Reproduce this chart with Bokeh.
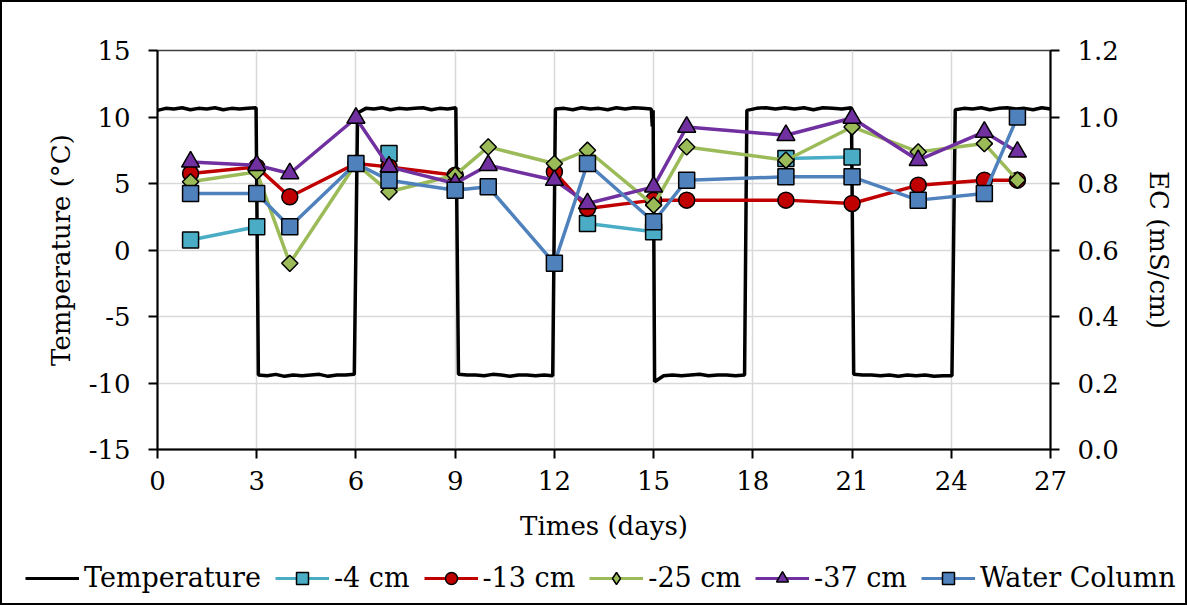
import numpy as np
from bokeh.plotting import figure
from bokeh.layouts import column
from bokeh.models import (Range1d, LinearAxis, FixedTicker, NumeralTickFormatter,
                          Legend, LegendItem)
from bokeh.embed import file_html
from bokeh.resources import INLINE

nan = float("nan")

# ---------------- data ----------------
days = [1, 3, 4, 6, 7, 9, 10, 12, 13, 15, 16, 19, 21, 23, 25, 26]
ec_4cm = [0.63, 0.67, nan, nan, 0.89, nan, nan, nan, 0.68, 0.655, nan, 0.875, 0.88, nan, nan, nan]
ec_13cm = [0.83, 0.85, 0.76, 0.86, 0.85, 0.825, nan, 0.835, 0.725, 0.75, 0.75, 0.75, 0.74, 0.795, 0.81, 0.81]
ec_25cm = [0.805, 0.835, 0.56, 0.86, 0.775, 0.825, 0.91, 0.86, 0.90, 0.735, 0.91, 0.87, 0.97, 0.895, 0.92, 0.81]
ec_37cm = [0.865, 0.855, 0.83, 0.997, 0.85, 0.80, 0.855, 0.81, 0.74, 0.79, 0.97, 0.945, 0.997, 0.87, 0.955, 0.895]
ec_water = [0.77, 0.77, 0.67, 0.86, 0.81, 0.78, 0.79, 0.56, 0.86, 0.685, 0.81, 0.82, 0.82, 0.75, 0.77, 1.0]

# temperature logger record: (start day, end day) of each stretch and the readings within it
temp_segments = [(0.0, 2.98), (3.05, 5.95), (6.05, 9.02), (9.10, 11.95), (12.03, 14.93), (14.96, 14.985),
                 (15.03, 17.75), (17.82, 20.98), (21.05, 24.02), (24.12, 27.0)]
temp_readings = [
    [10.5, 10.65, 10.6, 10.7, 10.55, 10.65, 10.6, 10.7, 10.55, 10.65, 10.6, 10.65, 10.7],
    [-9.4, -9.45, -9.35, -9.5, -9.4, -9.45, -9.4, -9.35, -9.5, -9.4, -9.4, -9.35],
    [10.3, 10.65, 10.6, 10.7, 10.55, 10.65, 10.6, 10.65, 10.7, 10.55, 10.65, 10.6, 10.7],
    [-9.35, -9.4, -9.4, -9.45, -9.35, -9.4, -9.5, -9.4, -9.4, -9.45, -9.4, -9.45],
    [10.6, 10.65, 10.55, 10.7, 10.6, 10.65, 10.55, 10.7, 10.6, 10.7, 10.65, 10.6],
    [9.3, 10.5],
    [-9.9, -9.45, -9.4, -9.45, -9.4, -9.35, -9.45, -9.4, -9.4, -9.45, -9.4],
    [10.5, 10.65, 10.7, 10.6, 10.7, 10.6, 10.7, 10.55, 10.7, 10.65, 10.6, 10.7],
    [-9.35, -9.4, -9.4, -9.45, -9.4, -9.5, -9.4, -9.45, -9.4, -9.5, -9.45, -9.45],
    [10.55, 10.65, 10.6, 10.7, 10.55, 10.65, 10.7, 10.6, 10.65, 10.55, 10.7, 10.6],
]

x_ticks = [0, 3, 6, 9, 12, 15, 18, 21, 24, 27]
t_ticks = [-15, -10, -5, 0, 5, 10, 15]
ec_ticks = [0.0, 0.2, 0.4, 0.6, 0.8, 1.0, 1.2]

temp_t = np.concatenate([np.linspace(a, b, len(v)) for (a, b), v in zip(temp_segments, temp_readings)])
temp_v = np.concatenate([np.array(v) for v in temp_readings])

FONT = "DejaVu Serif"
FS = "26px"

p = figure(width=1183, height=551, output_backend="svg", toolbar_location=None,
           x_range=Range1d(0, 27), y_range=Range1d(-15, 15),
           min_border_left=155, min_border_right=135, min_border_top=48, min_border_bottom=104)
p.extra_y_ranges = {"ec": Range1d(0, 1.2)}

p.outline_line_color = "#404040"
p.outline_line_width = 1.5


def style_axis(ax):
    ax.axis_line_color = "black"
    ax.axis_line_width = 2
    ax.major_tick_line_color = "black"
    ax.major_tick_line_width = 2
    ax.major_tick_out = 9
    ax.major_tick_in = 0
    ax.minor_tick_line_color = None
    ax.major_label_text_font = FONT
    ax.major_label_text_font_size = FS
    ax.axis_label_text_font = FONT
    ax.axis_label_text_font_size = FS
    ax.axis_label_text_font_style = "normal"
    ax.major_label_text_color = "black"
    ax.axis_label_text_color = "black"


for ax in p.xaxis + p.yaxis:
    style_axis(ax)

p.xaxis.ticker = FixedTicker(ticks=x_ticks)
p.xaxis.formatter = NumeralTickFormatter(format="0")
p.xaxis.axis_label = "Times (days)"
p.xaxis.major_label_standoff = 12
p.xaxis.axis_label_standoff = 18

p.yaxis.ticker = FixedTicker(ticks=t_ticks)
p.yaxis.formatter = NumeralTickFormatter(format="0")
p.yaxis.axis_label = "Temperature (°C)"
p.yaxis.major_label_standoff = 18
p.yaxis.axis_label_standoff = 10

ax_r = LinearAxis(y_range_name="ec", ticker=FixedTicker(ticks=ec_ticks),
                  formatter=NumeralTickFormatter(format="0.0"), axis_label="EC (mS/cm)")
style_axis(ax_r)
ax_r.major_label_standoff = 18
ax_r.axis_label_standoff = 22
p.add_layout(ax_r, "right")

p.xgrid.ticker = FixedTicker(ticks=x_ticks)
p.ygrid.ticker = FixedTicker(ticks=t_ticks)
for g in (p.xgrid[0], p.ygrid[0]):
    g.grid_line_color = "#d9d9d9"
    g.grid_line_width = 1.5

# name, values, colour, plot marker, size, angle, legend marker, legend size
series = [
    ("-4 cm", ec_4cm, "#4bacc6", "square", 16, 0, "square", 16),
    ("-13 cm", ec_13cm, "#c00000", "circle", 16, 0, "circle", 16),
    ("-25 cm", ec_25cm, "#9bbb59", "square", 11.5, np.pi / 4, "diamond", 16),
    ("-37 cm", ec_37cm, "#7030a0", "triangle", 18, 0, "triangle", 18),
    ("Water Column", ec_water, "#4f81bd", "square", 16, 0, "square", 16),
]

# legend strip (separate figure so that the full-width legend is not clipped)
lf = figure(width=1183, height=50, output_backend="svg", toolbar_location=None,
            x_range=Range1d(100, 101), y_range=Range1d(100, 101),
            x_axis_type=None, y_axis_type=None,
            min_border_left=0, min_border_right=0, min_border_top=0, min_border_bottom=0)
lf.frame_align = False
lf.outline_line_color = None
lf.xgrid.visible = False
lf.ygrid.visible = False

p.line(temp_t, temp_v, line_color="black", line_width=3.5)
lr_temp = lf.line(temp_t, temp_v, line_color="black", line_width=3)
items = [LegendItem(label="Temperature", renderers=[lr_temp])]

for name, vals, col, mk, sz, ang, lmk, lsz in series:
    p.line(days, vals, line_color=col, line_width=3.5, y_range_name="ec")
    p.scatter(days, vals, marker=mk, size=sz, angle=ang, fill_color=col,
              line_color="black", line_width=1.5, y_range_name="ec")
    rl = lf.line(days, vals, line_color=col, line_width=3)
    rs = lf.scatter(days, vals, marker=lmk, size=lsz, fill_color=col,
                    line_color="black", line_width=1.5)
    items.append(LegendItem(label=name, renderers=[rl, rs]))

legend = Legend(items=items, orientation="horizontal", location=(23, 10),
                label_text_font=FONT, label_text_font_size="27px", label_text_color="black",
                glyph_width=54, glyph_height=30, label_standoff=5, spacing=14,
                padding=0, margin=0, border_line_color=None, background_fill_alpha=0)
lf.add_layout(legend)

layout = column(p, lf, spacing=0, styles={"border": "2px solid black"})

open("out.html", "w").write(file_html(layout, INLINE))
